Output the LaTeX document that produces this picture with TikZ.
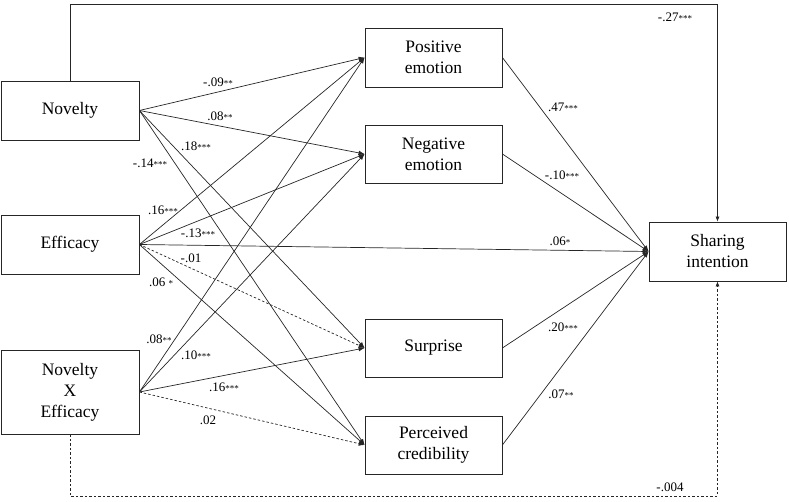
\documentclass[tikz,border=0pt]{standalone}
\usepackage{fontspec}
\setmainfont{Liberation Serif}
\newfontfamily\tnr{Liberation Serif}
\usetikzlibrary{arrows.meta}
\newcommand{\sigst}[1]{{\fontsize{9}{9}\selectfont #1}}
\tikzset{
  varbox/.style={draw=black!85, line width=0.8pt, minimum width=138pt, minimum height=59pt, align=center, inner sep=2pt, font=\tnr\fontsize{17.5}{21}\selectfont},
  path/.style={draw=black!85, line width=0.7pt, -{Latex[length=6pt,width=4.5pt]}},
  dpath/.style={path, dash pattern=on 2.5pt off 2pt},
  coef/.style={inner sep=0pt, font=\tnr\fontsize{13}{13}\selectfont},
}
\begin{document}
\begin{tikzpicture}[x=1pt,y=-1pt]
\useasboundingbox (0,0) rectangle (789,502);
% left
\node[varbox] (nov) at (70,110.5) {Novelty};
\node[varbox] (eff) at (70,244.5) {Efficacy};
\node[varbox, minimum height=84pt] (nxe) at (70,392) {Novelty\\X\\Efficacy};
% middle
\node[varbox, minimum width=137pt] (pos) at (433.5,57.5) {Positive\\emotion};
\node[varbox, minimum width=137pt, minimum height=58pt] (neg) at (433.5,154) {Negative\\emotion};
\node[varbox, minimum width=137pt, minimum height=58pt] (sur) at (433.5,348) {Surprise};
\node[varbox, minimum width=137pt, minimum height=58pt] (cred) at (433.5,445) {Perceived\\credibility};
% right
\node[varbox, minimum width=137pt] (share) at (717.5,251.5) {Sharing\\intention};
% top and bottom direct paths
\coordinate (topy) at (0,4);
\coordinate (boty) at (0,496);
\draw[path, -{Latex[length=5pt,width=4pt]}] (nov.north) -- (nov.north |- topy) -| (share.north);
\draw[dpath, -{Latex[length=5pt,width=4pt]}] (nxe.south) -- (nxe.south |- boty) -| (share.south);
% Novelty paths
\draw[path] (nov.east) -- (pos.west);
\draw[path] (nov.east) -- (neg.west);
\draw[path] (nov.east) -- (sur.west);
\draw[path] (nov.east) -- (cred.west);
% Efficacy paths
\draw[path] (eff.east) -- (pos.west);
\draw[path] (eff.east) -- (neg.west);
\draw[path] (eff.east) -- (share.west);
\draw[dpath] (eff.east) -- (sur.west);
\draw[path] (eff.east) -- (cred.west);
% Interaction paths
\draw[path] (nxe.east) -- (pos.west);
\draw[path] (nxe.east) -- (neg.west);
\draw[path] (nxe.east) -- (sur.west);
\draw[dpath] (nxe.east) -- (cred.west);
% mediators to sharing
\draw[path] (pos.east) -- (share.west);
\draw[path] (neg.east) -- (share.west);
\draw[path] (sur.east) -- (share.west);
\draw[path] (cred.east) -- (share.west);
% coefficients
\node[coef] (c1) at (675,17) {-.27\sigst{***}};
\node[coef] (c2) at (218,82) {-.09\sigst{**}};
\node[coef] (c3) at (220,116) {.08\sigst{**}};
\node[coef] (c4) at (196,146) {.18\sigst{***}};
\node[coef] (c5) at (150,163) {-.14\sigst{***}};
\node[coef] (c6) at (163,210) {.16\sigst{***}};
\node[coef] (c7) at (198,233) {-.13\sigst{***}};
\node[coef] (c8) at (191,258) {-.01};
\node[coef] (c9) at (161,282) {.06 \sigst{*}};
\node[coef] (c10) at (159,339) {.08\sigst{**}};
\node[coef] (c11) at (196,355) {.10\sigst{***}};
\node[coef] (c12) at (224,387) {.16\sigst{***}};
\node[coef] (c13) at (208,420) {.02};
\node[coef] (c14) at (563,107) {.47\sigst{***}};
\node[coef] (c15) at (562,175) {-.10\sigst{***}};
\node[coef] (c16) at (560,241) {.06\sigst{*}};
\node[coef] (c17) at (563,327) {.20\sigst{***}};
\node[coef] (c18) at (561,394) {.07\sigst{**}};
\node[coef] (c19) at (670,487) {-.004};
\end{tikzpicture}
\end{document}
